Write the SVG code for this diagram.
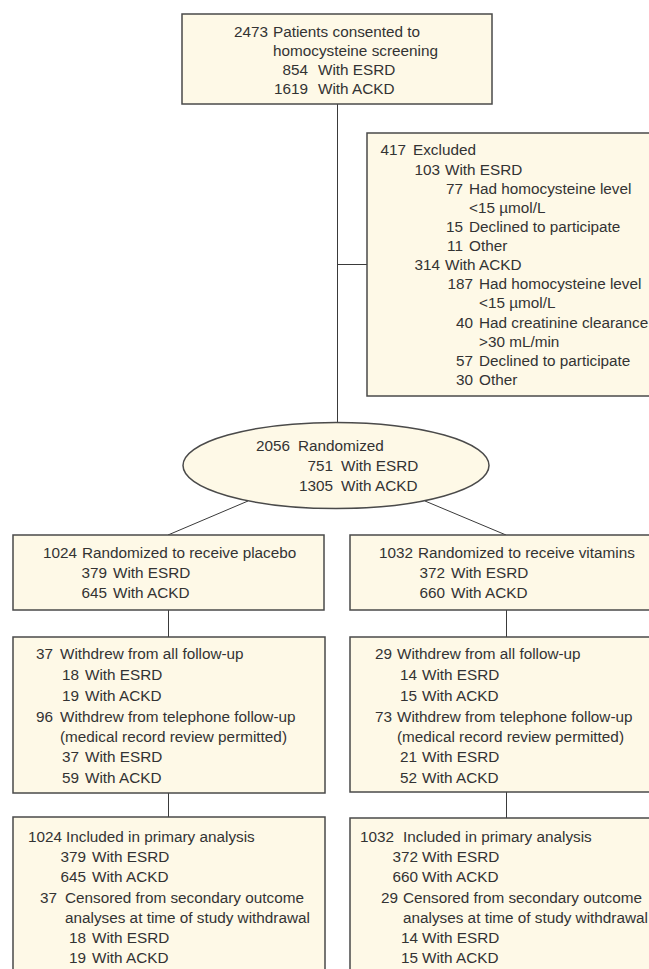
<svg xmlns="http://www.w3.org/2000/svg" width="649" height="969" viewBox="0 0 649 969">
<style>
.box{fill:#fef9e7;stroke:#4a4a4a;stroke-width:1.5}
.ln{stroke:#3a3a3a;stroke-width:1;fill:none}
text{font-family:"Liberation Sans",Arial,Helvetica,sans-serif;font-size:15.3px;fill:#333}
.e{text-anchor:end}
</style>
<rect width="649" height="969" fill="#ffffff"/>
<g id="connectors">
<line class="ln" x1="337.5" y1="104" x2="337.5" y2="423"/>
<line class="ln" x1="337.5" y1="264.5" x2="367" y2="264.5"/>
<line class="ln" x1="248" y1="501" x2="168" y2="535"/>
<line class="ln" x1="425" y1="501" x2="506" y2="535"/>
<line class="ln" x1="168.5" y1="610" x2="168.5" y2="637"/>
<line class="ln" x1="506.5" y1="610" x2="506.5" y2="637"/>
<line class="ln" x1="168.5" y1="793" x2="168.5" y2="817"/>
<line class="ln" x1="506.5" y1="792" x2="506.5" y2="818"/>
</g>
<g id="screening">
<rect class="box" x="182" y="14" width="310" height="90"/>
<text class="e" x="268" y="37">2473</text><text x="273" y="37">Patients consented to</text>
<text x="273" y="56">homocysteine screening</text>
<text class="e" x="308" y="75">854</text><text x="318" y="75">With ESRD</text>
<text class="e" x="308" y="94">1619</text><text x="318" y="94">With ACKD</text>
</g>
<g id="excluded">
<rect class="box" x="367" y="133" width="300" height="263"/>
<text class="e" x="406" y="155">417</text><text x="413" y="155">Excluded</text>
<text class="e" x="440" y="175">103</text><text x="445" y="175">With ESRD</text>
<text class="e" x="463" y="194">77</text><text x="469" y="194">Had homocysteine level</text>
<text x="469" y="213">&lt;15 µmol/L</text>
<text class="e" x="463" y="232">15</text><text x="469" y="232">Declined to participate</text>
<text class="e" x="463" y="251">11</text><text x="469" y="251">Other</text>
<text class="e" x="440" y="270">314</text><text x="445" y="270">With ACKD</text>
<text class="e" x="473" y="289">187</text><text x="479" y="289">Had homocysteine level</text>
<text x="479" y="308">&lt;15 µmol/L</text>
<text class="e" x="473" y="328">40</text><text x="479" y="328">Had creatinine clearance</text>
<text x="479" y="347">&gt;30 mL/min</text>
<text class="e" x="473" y="366">57</text><text x="479" y="366">Declined to participate</text>
<text class="e" x="473" y="385">30</text><text x="479" y="385">Other</text>
</g>
<g id="randomized">
<ellipse class="box" cx="336" cy="465.5" rx="153" ry="43"/>
<text class="e" x="290" y="451">2056</text><text x="298" y="451">Randomized</text>
<text class="e" x="333" y="471">751</text><text x="341" y="471">With ESRD</text>
<text class="e" x="333" y="491">1305</text><text x="341" y="491">With ACKD</text>
</g>
<g id="placebo">
<rect class="box" x="13" y="535" width="311" height="75"/>
<text class="e" x="77" y="558">1024</text><text x="82" y="558">Randomized to receive placebo</text>
<text class="e" x="107" y="578">379</text><text x="113" y="578">With ESRD</text>
<text class="e" x="107" y="598">645</text><text x="113" y="598">With ACKD</text>
</g>
<g id="vitamins">
<rect class="box" x="350" y="535" width="320" height="75"/>
<text class="e" x="413" y="558">1032</text><text x="418" y="558">Randomized to receive vitamins</text>
<text class="e" x="445" y="578">372</text><text x="451" y="578">With ESRD</text>
<text class="e" x="445" y="598">660</text><text x="451" y="598">With ACKD</text>
</g>
<g id="placebo-withdrew">
<rect class="box" x="13" y="637" width="312" height="156"/>
<text class="e" x="53" y="659">37</text><text x="60" y="659">Withdrew from all follow-up</text>
<text class="e" x="79" y="680">18</text><text x="85" y="680">With ESRD</text>
<text class="e" x="79" y="701">19</text><text x="85" y="701">With ACKD</text>
<text class="e" x="53" y="722">96</text><text x="60" y="722">Withdrew from telephone follow-up</text>
<text x="60" y="742">(medical record review permitted)</text>
<text class="e" x="79" y="762">37</text><text x="85" y="762">With ESRD</text>
<text class="e" x="79" y="783">59</text><text x="85" y="783">With ACKD</text>
</g>
<g id="vitamins-withdrew">
<rect class="box" x="350" y="637" width="320" height="155"/>
<text class="e" x="392" y="659">29</text><text x="397" y="659">Withdrew from all follow-up</text>
<text class="e" x="417" y="680">14</text><text x="422" y="680">With ESRD</text>
<text class="e" x="417" y="701">15</text><text x="422" y="701">With ACKD</text>
<text class="e" x="392" y="722">73</text><text x="397" y="722">Withdrew from telephone follow-up</text>
<text x="397" y="742">(medical record review permitted)</text>
<text class="e" x="417" y="762">21</text><text x="422" y="762">With ESRD</text>
<text class="e" x="417" y="783">52</text><text x="422" y="783">With ACKD</text>
</g>
<g id="placebo-analysis">
<rect class="box" x="13" y="817" width="312" height="170"/>
<text class="e" x="62" y="842">1024</text><text x="66" y="842">Included in primary analysis</text>
<text class="e" x="86" y="862">379</text><text x="92" y="862">With ESRD</text>
<text class="e" x="86" y="882">645</text><text x="92" y="882">With ACKD</text>
<text class="e" x="57" y="903">37</text><text x="65" y="903">Censored from secondary outcome</text>
<text x="65" y="923">analyses at time of study withdrawal</text>
<text class="e" x="86" y="943">18</text><text x="92" y="943">With ESRD</text>
<text class="e" x="86" y="963">19</text><text x="92" y="963">With ACKD</text>
</g>
<g id="vitamins-analysis">
<rect class="box" x="350" y="818" width="320" height="170"/>
<text class="e" x="394" y="842">1032</text><text x="403" y="842">Included in primary analysis</text>
<text class="e" x="418" y="862">372</text><text x="422" y="862">With ESRD</text>
<text class="e" x="418" y="882">660</text><text x="422" y="882">With ACKD</text>
<text class="e" x="398" y="903">29</text><text x="403" y="903">Censored from secondary outcome</text>
<text x="403" y="923">analyses at time of study withdrawal</text>
<text class="e" x="418" y="943">14</text><text x="422" y="943">With ESRD</text>
<text class="e" x="418" y="963">15</text><text x="422" y="963">With ACKD</text>
</g>
</svg>
